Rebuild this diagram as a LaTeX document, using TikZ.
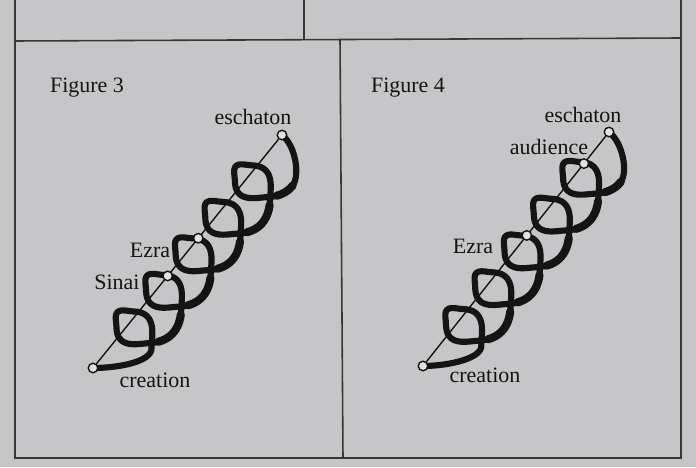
\documentclass[tikz,border=0pt]{standalone}
\usepackage{fontspec}
\setmainfont{Liberation Serif}
\usetikzlibrary{calc,backgrounds}
\definecolor{paper}{RGB}{198,198,200}
\definecolor{ink}{RGB}{20,20,20}
\definecolor{holefill}{RGB}{226,226,226}

\begin{document}
\begin{tikzpicture}[
  x=0.02cm, y=0.02cm,
  rule/.style={draw=ink!85, line width=0.9pt},
  thread/.style={draw=ink, line width=0.8pt},
  coil/.style={draw=ink, line width=3.5pt, line cap=round, line join=round},
  band/.style={draw=ink, line width=4.6pt, line cap=round},
  hole/.style={circle, draw=ink, fill=holefill, line width=0.8pt, minimum size=0.19cm, inner sep=0pt},
  lbl/.style={font=\fontsize{12.5}{15}\selectfont, text=ink, inner sep=0pt}
]
\useasboundingbox (0,0) rectangle (696,467);

% Figure 3
\node[lbl] (fig3) at (87,379) {Figure 3};
\node[hole] (creation3) at (93,99) {};
\node[hole] (eschaton3) at (282,332) {};
\node[hole] (sinai3) at ($(creation3)!0.395!(eschaton3)$) {};
\node[hole] (ezra3) at ($(creation3)!0.557!(eschaton3)$) {};
\node[lbl] (eschatonlbl3) at (253,350) {eschaton};
\node[lbl] (ezralbl3) at (150,217) {Ezra};
\node[lbl] (sinailbl3) at (117,185) {Sinai};
\node[lbl] (creationlbl3) at (155,87) {creation};

% Figure 4
\node[lbl] (fig4) at (408,379) {Figure 4};
\node[hole] (creation4) at (423,101) {};
\node[hole] (eschaton4) at (609,335) {};
\node[hole] (ezra4) at ($(creation4)!0.558!(eschaton4)$) {};
\node[hole] (audience4) at ($(creation4)!0.865!(eschaton4)$) {};
\node[lbl] (eschatonlbl4) at (583,352) {eschaton};
\node[lbl] (audiencelbl4) at (549,320) {audience};
\node[lbl] (ezralbl4) at (473,221) {Ezra};
\node[lbl] (creationlbl4) at (485,92) {creation};

\begin{scope}[on background layer]
  \fill[paper] (0,0) rectangle (696,467);
  % page frame
  \draw[rule] (15,467) -- (15,9) -- (681,9) -- (681,467);
  \draw[rule] (15,426) -- (681,429);
  \draw[rule] (304,467) -- (304,427.5);
  \draw[rule] (340,427.3) -- (343,9);
  % time lines
  \draw[thread] (creation3) -- (eschaton3);
  \draw[thread] (creation4) -- (eschaton4);
  % coil of figure 3
  \begin{scope}[shift={(creation3)}]
    \draw[coil] (0,0) .. controls (22,0) and (54,5) .. (58.2,17.1)
      -- plot[domain=0.6:31.416, samples=500, smooth, variable=\t]
         ({0.63*(33.5+7.48*\t)+9.32+25*sign(cos(deg(\t)-39))*pow(abs(cos(deg(\t)-39))+0.0001,0.65)},
          {0.777*(33.5+7.48*\t)-7.56+25*sign(sin(deg(\t)-39))*pow(abs(sin(deg(\t)-39))+0.0001,0.65)})
      .. controls (207,192) and (203,222) .. (189,233);
    \foreach \k in {1,...,5} {
      \pgfmathsetmacro\ta{6.2832*\k-0.7}
      \pgfmathsetmacro\tb{min(31.416,6.2832*\k+0.6)}
      \draw[band] plot[domain=\ta:\tb, samples=40, smooth, variable=\t]
         ({0.63*(33.5+7.48*\t)+9.32+25*sign(cos(deg(\t)-39))*pow(abs(cos(deg(\t)-39))+0.0001,0.65)},
          {0.777*(33.5+7.48*\t)-7.56+25*sign(sin(deg(\t)-39))*pow(abs(sin(deg(\t)-39))+0.0001,0.65)});
    }
  \end{scope}
  % coil of figure 4
  \begin{scope}[shift={(creation4)}]
    \draw[coil] (0,0) .. controls (22,0) and (54,6) .. (58.0,17.8)
      -- plot[domain=0.6:31.416, samples=500, smooth, variable=\t]
         ({0.6225*(33.5+7.48*\t)+9.39+25*sign(cos(deg(\t)-38.5))*pow(abs(cos(deg(\t)-38.5))+0.0001,0.65)},
          {0.7826*(33.5+7.48*\t)-7.47+25*sign(sin(deg(\t)-38.5))*pow(abs(sin(deg(\t)-38.5))+0.0001,0.65)})
      .. controls (205,194) and (200,223) .. (186,234);
    \foreach \k in {1,...,5} {
      \pgfmathsetmacro\ta{6.2832*\k-0.7}
      \pgfmathsetmacro\tb{min(31.416,6.2832*\k+0.6)}
      \draw[band] plot[domain=\ta:\tb, samples=40, smooth, variable=\t]
         ({0.6225*(33.5+7.48*\t)+9.39+25*sign(cos(deg(\t)-38.5))*pow(abs(cos(deg(\t)-38.5))+0.0001,0.65)},
          {0.7826*(33.5+7.48*\t)-7.47+25*sign(sin(deg(\t)-38.5))*pow(abs(sin(deg(\t)-38.5))+0.0001,0.65)});
    }
  \end{scope}
\end{scope}
\end{tikzpicture}
\end{document}
